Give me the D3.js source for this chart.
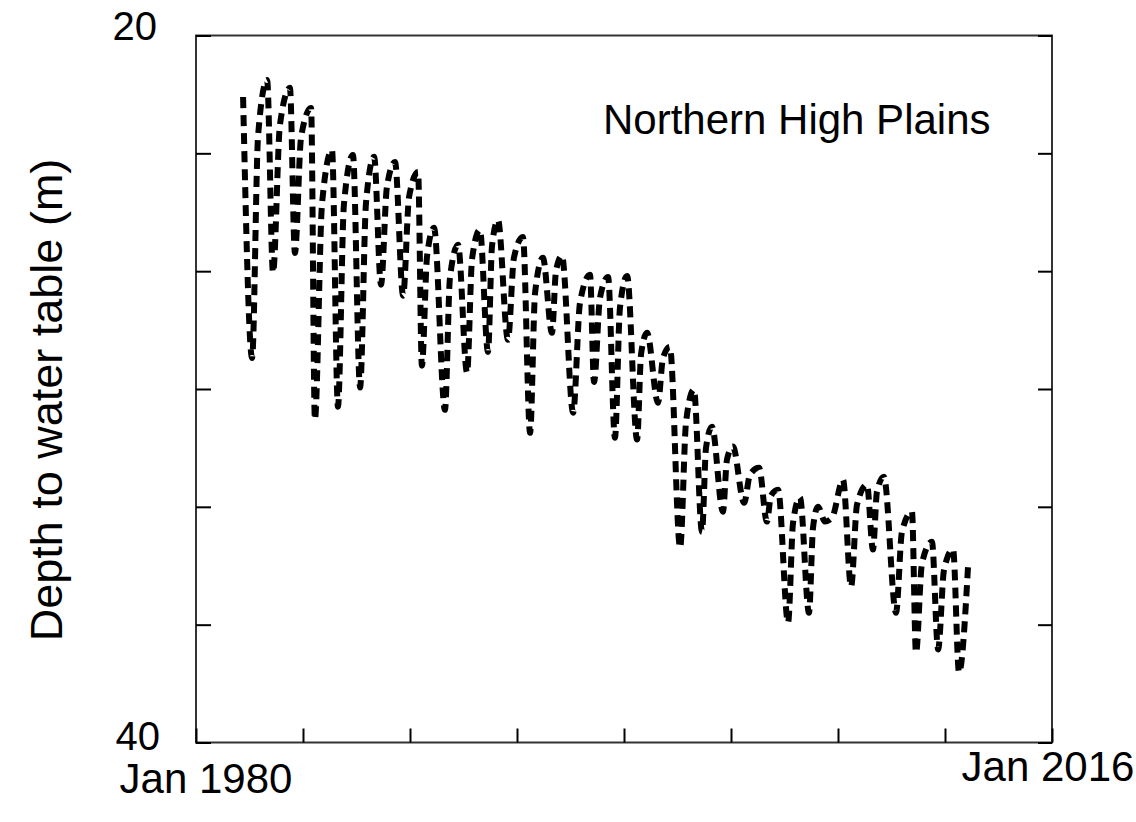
<!DOCTYPE html>
<html><head><meta charset="utf-8">
<script src="https://cdn.jsdelivr.net/npm/d3@7/dist/d3.min.js"></script>
<style>
body{margin:0;background:#fff;}
text{font-family:"Liberation Sans",Arial,Helvetica,sans-serif;fill:#000;}
</style>
</head><body>
<svg id="chart" width="1136" height="822"></svg>
<script>
// decimal years of the read points (peak, trough, recovery knee per season)
const timeYears = [
 1981.98,1982.36,1982.61, 1982.99,1983.24,1983.53, 1983.95,1984.16,1984.42,
 1984.84,1985.00,1985.30, 1985.72,1985.97,1986.22, 1986.60,1986.90,1987.15,
 1987.49,1987.78,1988.03, 1988.37,1988.71,1988.96, 1989.34,1989.50,1989.72,
 1990.01,1990.47,1990.68, 1991.02,1991.40,1991.61, 1991.94,1992.28,1992.45,
 1992.70,1993.12,1993.37, 1993.75,1994.05,1994.26, 1994.59,1994.97,1995.14,
 1995.39,1995.86,1996.15, 1996.57,1996.74,1996.99, 1997.33,1997.62,1997.83,
 1998.13,1998.55,1998.72, 1998.97,1999.43,1999.64, 1999.93,2000.36,2000.61,
 2000.94,2001.28,2001.45, 2001.70,2002.16,2002.33, 2002.58,2003.05,2003.30,
 2003.68,2004.01,2004.18, 2004.48,2004.90,2005.11, 2005.40,2005.78,2005.95,
 2006.16,2006.45,2006.75, 2007.21,2007.55,2007.80, 2008.22,2008.47,2008.64,
 2008.93,2009.44,2009.69, 2010.11,2010.28,2010.53, 2010.95,2011.21,2011.46,
 2011.84,2012.09,2012.47
];
// depth to water table (m)
const depthValues = [
 21.74,29.12,22.84, 21.26,26.71,22.53, 21.48,26.15,22.87,
 22.05,30.87,24.76, 23.24,30.50,24.79, 23.38,29.96,24.73,
 23.43,27.05,24.28, 23.58,27.36,24.57, 23.86,29.34,26.23,
 25.44,30.59,26.86, 25.92,29.54,26.32, 25.50,28.95,25.95,
 25.22,28.61,26.29, 25.70,31.24,27.28, 26.29,28.41,26.66,
 26.23,30.67,27.56, 26.77,29.80,27.42, 26.83,31.38,27.70,
 26.80,31.43,29.00, 28.41,30.39,29.12, 28.81,34.49,30.93,
 30.02,34.04,31.66, 31.07,33.47,32.00, 31.63,33.22,32.42,
 32.23,33.75,33.02, 32.85,36.61,33.78, 33.07,36.33,33.92,
 33.33,33.75,33.64, 32.57,35.59,33.27, 32.71,34.54,32.90,
 32.48,36.33,34.04, 33.47,37.46,34.94, 34.32,37.37,35.11,
 34.54,38.02,35.00
];
const yTickValues = [20, 23.333, 26.667, 30, 33.333, 36.667, 40];
const yLabelValues = [20, 40];
const xTickValues = [1980, 1984.5, 1989, 1993.5, 1998, 2002.5, 2007, 2011.5, 2016];
const xLabelValues = [1980, 2016];
const xLabelTexts = ["Jan 1980", "Jan 2016"];
const regionLabel = "Northern High Plains";
const yTitle = "Depth to water table (m)";

const L = 196, R = 1052, T = 35.5, B = 742.5;
const svg = d3.select("#chart");
const x = d3.scaleLinear().domain([1980, 2016]).range([L, R]);
const y = d3.scaleLinear().domain([20, 40]).range([T, B]);

const data = timeYears.map((t, i) => ({t, v: depthValues[i]}));

// frame
svg.append("rect").attr("x", L).attr("y", T).attr("width", R - L).attr("height", B - T)
  .attr("fill", "none").attr("stroke", "#333").attr("stroke-width", 2);

function styleAxis(g){
  g.select(".domain").remove();
  g.selectAll(".tick line").attr("stroke", "#000").attr("stroke-width", 2);
}
svg.append("g").attr("transform", `translate(${L},0)`)
  .call(d3.axisLeft(y).tickValues(yTickValues).tickSize(-15).tickSizeOuter(0).tickFormat(""))
  .call(styleAxis);
svg.append("g").attr("transform", `translate(${R},0)`)
  .call(d3.axisRight(y).tickValues(yTickValues).tickSize(-14).tickSizeOuter(0).tickFormat(""))
  .call(styleAxis);
svg.append("g").attr("transform", `translate(0,${B})`)
  .call(d3.axisBottom(x).tickValues(xTickValues).tickSize(-14).tickSizeOuter(0).tickFormat(""))
  .call(styleAxis);

// data line
const line = d3.line().x(d => x(d.t)).y(d => y(d.v)).curve(d3.curveMonotoneX);
svg.append("path").datum(data).attr("d", line)
  .attr("fill", "none").attr("stroke", "#000").attr("stroke-width", 6)
  .attr("stroke-dasharray", "11,7").attr("stroke-linecap", "butt").attr("stroke-linejoin", "round");

// y labels
svg.selectAll(".ylab").data(yLabelValues).enter().append("text")
  .attr("class", "ylab")
  .attr("x", d => d === 20 ? 157 : 160)
  .attr("y", d => d === 20 ? y(d) + 4 : y(d) + 7)
  .attr("text-anchor", "end")
  .attr("font-size", 40)
  .text(d => d);

// x labels
svg.selectAll(".xlab").data(xLabelValues).enter().append("text")
  .attr("class", "xlab")
  .attr("x", (d, i) => i === 0 ? x(d) + 10 : x(d) - 4)
  .attr("y", (d, i) => i === 0 ? 793 : 781)
  .attr("text-anchor", "middle")
  .attr("font-size", 42)
  .text((d, i) => xLabelTexts[i]);

// region label
svg.append("text").attr("x", 603).attr("y", 134).attr("font-size", 42).text(regionLabel);

// y title
svg.append("text").attr("transform", "translate(62,400) rotate(-90)")
  .attr("text-anchor", "middle").attr("font-size", 45).text(yTitle);
</script>
</body></html>
